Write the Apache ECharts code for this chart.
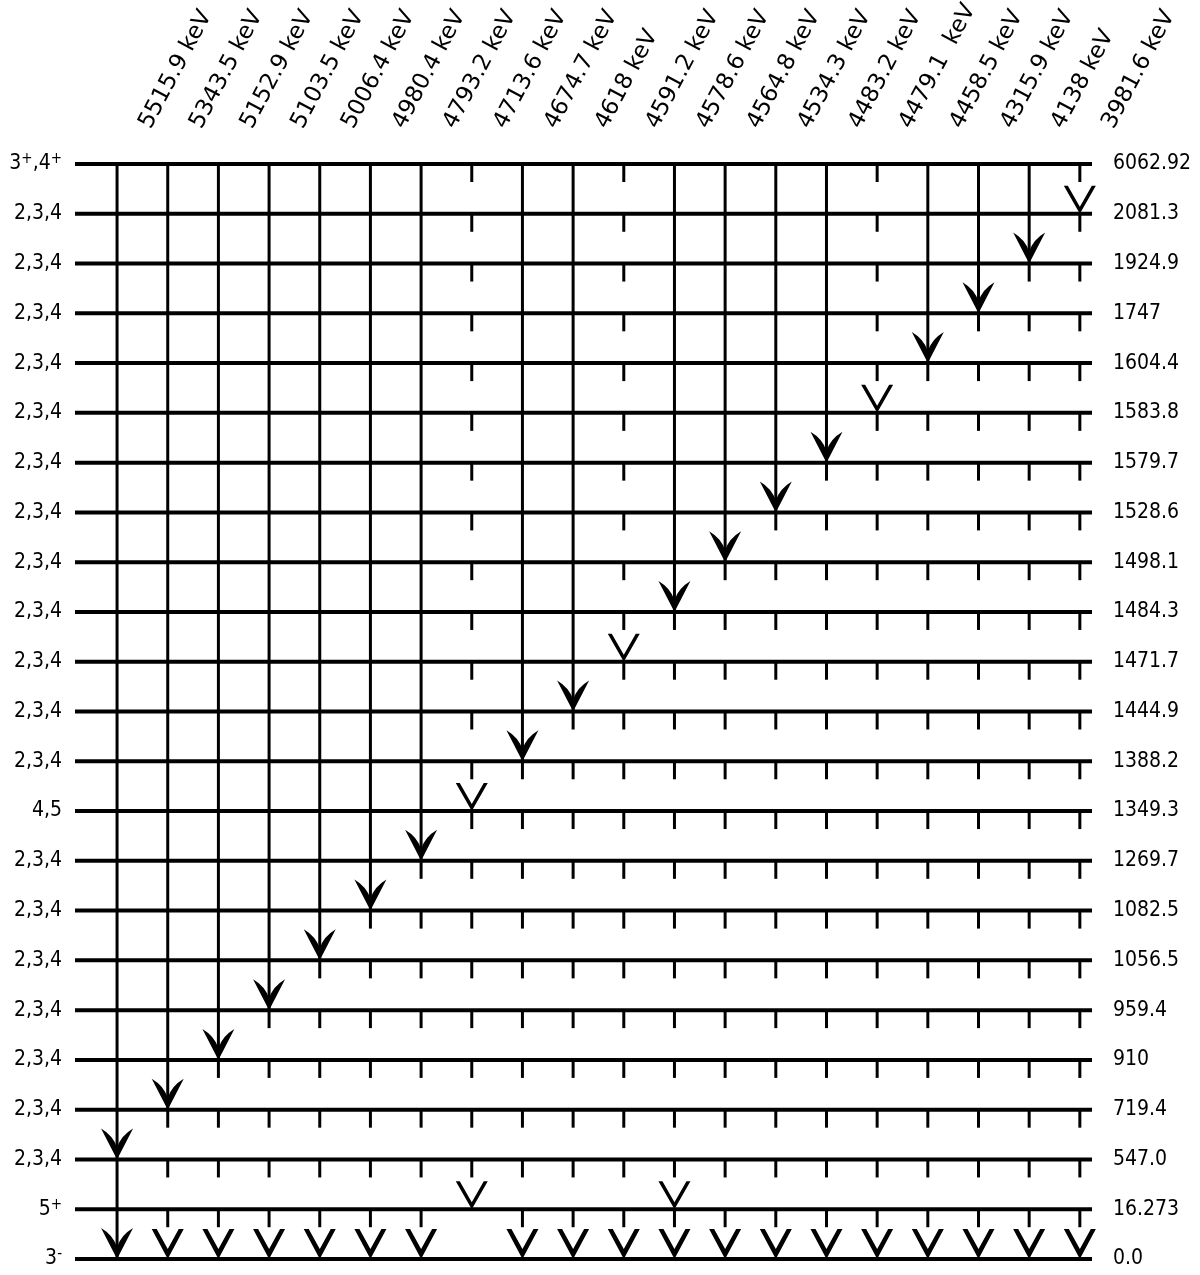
<!DOCTYPE html>
<html><head><meta charset="utf-8">
<script src="https://cdn.jsdelivr.net/npm/echarts@6/dist/echarts.min.js"></script>
<style>html,body{margin:0;padding:0;background:#fff}#c{width:1200px;height:1275px}</style>
</head><body><div id="c"></div>
<script>
// ---- Level scheme data ----
const levelEnergies = ['6062.92','2081.3','1924.9','1747','1604.4','1583.8','1579.7','1528.6','1498.1','1484.3','1471.7','1444.9','1388.2','1349.3','1269.7','1082.5','1056.5','959.4','910','719.4','547.0','16.273','0.0'];
const levelSpins = ['3⁺,4⁺','2,3,4','2,3,4','2,3,4','2,3,4','2,3,4','2,3,4','2,3,4','2,3,4','2,3,4','2,3,4','2,3,4','2,3,4','4,5','2,3,4','2,3,4','2,3,4','2,3,4','2,3,4','2,3,4','2,3,4','5⁺','3⁻'];

const gammaLabels = ['5515.9 keV','5343.5 keV','5152.9 keV','5103.5 keV','5006.4 keV','4980.4 keV','4793.2 keV','4713.6 keV','4674.7 keV','4618 keV','4591.2 keV','4578.6 keV','4564.8 keV','4534.3 keV','4483.2 keV','4479.1  keV','4458.5 keV','4315.9 keV','4138 keV','3981.6 keV'];
const gammaInitial = '6062.92';
const gammaFinal = ['547.0','719.4','910','959.4','1056.5','1082.5','1269.7','1349.3','1388.2','1444.9','1471.7','1484.3','1498.1','1528.6','1579.7','1583.8','1604.4','1747','1924.9','2081.3'];
const gammaTentative = [false,false,false,false,false,false,false,true,false,false,true,false,false,false,false,true,false,false,false,true];
// secondary decays of each final level
const cascadeTargets = [['0.0'],['0.0'],['0.0'],['0.0'],['0.0'],['0.0'],['0.0'],['16.273'],['0.0'],['0.0'],['0.0'],['16.273','0.0'],['0.0'],['0.0'],['0.0'],['0.0'],['0.0'],['0.0'],['0.0'],['0.0']];
const cascadeSolid = [true,false,false,false,false,false,false,false,false,false,false,false,false,false,false,false,false,false,false,false];

// ---- build drawing items from data ----
const row = e => levelEnergies.indexOf(e);
const GROUND = row('0.0');
const segs = [];      // [col, fromRow, toRow, kind] kind 0 = solid line, 1 = dash tick
const bigArrows = [], smallArrows = [], groundArrows = [];
gammaLabels.forEach((g, i) => {
  const r0 = row(gammaInitial), f = row(gammaFinal[i]);
  if (!gammaTentative[i]) { segs.push([i, r0, f, 0]); bigArrows.push([i, f]); }
  else { for (let r = r0; r < f; r++) segs.push([i, r, r, 1]); smallArrows.push([i, f]); }
  const targets = cascadeTargets[i].map(row);
  const last = Math.max(...targets);
  if (cascadeSolid[i]) { segs.push([i, f, last, 0]); bigArrows.push([i, last]); }
  else {
    for (let r = f; r < last; r++) segs.push([i, r, r, 1]);
    targets.forEach(t => (t === GROUND ? groundArrows : smallArrows).push([i, t]));
  }
});
const levelRows = levelEnergies.map((e, i) => [0, i]);

const FONT_NARROW = '"DejaVu Sans Condensed", "DejaVu Sans", sans-serif';
const spinFormatter = v => v.replace(/⁺/g, '{s|+}').replace(/⁻/g, '{s|-}').replace(/^([^{]+)/, '{a|$1}').replace(/\}([^{]+)\{/g, '}{a|$1}{').replace(/\}([^{}]+)$/, '}{a|$1}');

const chart = echarts.init(document.getElementById('c'), null, {renderer: 'canvas'});
chart.setOption({
  backgroundColor: '#fff',
  animation: false,
  grid: [
    {left: 75, right: 108, top: 164, bottom: 16},
    // label strip for the gamma energies (column pitch identical to main grid)
    {left: 120, width: 1013.6, top: 164, height: 1}
  ],
  xAxis: [
    {type: 'value', gridIndex: 0, min: -0.83, max: 19.24, show: false},
    {type: 'category', gridIndex: 1, position: 'top', data: gammaLabels, boundaryGap: true,
     axisLine: {show: false}, axisTick: {show: false}, splitLine: {show: false},
     axisLabel: {interval: 0, rotate: 62, margin: 38, fontFamily: '"DejaVu Sans", sans-serif', fontSize: 23, color: '#000'}}
  ],
  yAxis: [
    {type: 'category', gridIndex: 0, data: levelSpins, inverse: true, boundaryGap: false, position: 'left',
     axisLine: {show: false}, axisTick: {show: false}, splitLine: {show: false},
     axisLabel: {interval: 0, margin: 13, color: '#000', formatter: spinFormatter,
       rich: {a: {fontFamily: FONT_NARROW, fontSize: 21, color: '#000'},
              s: {fontFamily: FONT_NARROW, fontSize: 15, color: '#000', verticalAlign: 'top', padding: [0, 0, 9, 0]}}}},
    {type: 'category', gridIndex: 0, data: levelEnergies, inverse: true, boundaryGap: false, position: 'right',
     axisLine: {show: false}, axisTick: {show: false}, splitLine: {show: false},
     axisLabel: {interval: 0, margin: 21, color: '#000', fontFamily: FONT_NARROW, fontSize: 21}},
    {type: 'value', gridIndex: 1, show: false}
  ],
  series: [
    {type: 'custom', xAxisIndex: 0, yAxisIndex: 1, z: 2, data: levelRows,
     renderItem(params, api) {
       const cs = params.coordSys; const y = api.coord([0, api.value(1)])[1];
       return {type: 'line', shape: {x1: cs.x, y1: y, x2: cs.x + cs.width, y2: y}, style: {stroke: '#000', lineWidth: 4}};
     }},
    {type: 'custom', xAxisIndex: 0, yAxisIndex: 1, z: 3, data: segs,
     encode: {x: 0, y: [1, 2]},
     renderItem(params, api) {
       const c = api.value(0), kind = api.value(3);
       const p0 = api.coord([c, api.value(1)]), p1 = api.coord([c, api.value(2)]);
       if (kind === 0) return {type: 'line', shape: {x1: p0[0], y1: p0[1], x2: p1[0], y2: p1[1]}, style: {stroke: '#000', lineWidth: 3}};
       return {type: 'line', shape: {x1: p0[0], y1: p0[1], x2: p0[0], y2: p0[1] + 18}, style: {stroke: '#000', lineWidth: 3}};
     }},
    {type: 'scatter', xAxisIndex: 0, yAxisIndex: 1, z: 4, data: bigArrows, silent: true,
     symbol: 'path://M0,0 L-16,-31 Q-4,-24 0,-12 Q4,-24 16,-31 Z', symbolSize: [32, 31], symbolOffset: [0, '-50%'],
     itemStyle: {color: '#000', opacity: 1}},
    {type: 'scatter', xAxisIndex: 0, yAxisIndex: 1, z: 4, data: smallArrows, silent: true,
     symbol: 'path://M0,0 L-16,-28 L-12,-28 L0,-7 L12,-28 L16,-28 Z', symbolSize: [32, 28], symbolOffset: [0, '-50%'],
     itemStyle: {color: '#000', opacity: 1}},
    {type: 'scatter', xAxisIndex: 0, yAxisIndex: 1, z: 4, data: groundArrows, silent: true,
     symbol: 'path://M0,0 L-16,-30 L-11,-30 L0,-10 L11,-30 L16,-30 Z', symbolSize: [32, 30], symbolOffset: [0, '-50%'],
     itemStyle: {color: '#000', opacity: 1}}
  ]
});
</script></body></html>
